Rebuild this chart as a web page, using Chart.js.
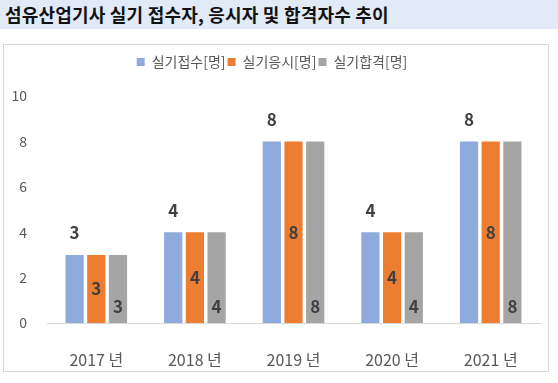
<!DOCTYPE html>
<html><head><meta charset="utf-8">
<script src="https://cdn.jsdelivr.net/npm/chart.js@4/dist/chart.umd.min.js"></script>
<style>
html,body{margin:0;padding:0;background:#fff;width:558px;height:383px;overflow:hidden;font-family:"Noto Sans CJK KR","Noto Sans",sans-serif;}
#title{position:absolute;left:0;top:0;width:558px;height:29px;background:#e3eaf7;}
#title span{position:absolute;left:5px;top:2px;font-size:18px;font-weight:bold;color:#111;line-height:24px;white-space:nowrap;letter-spacing:0.2px;}
#box{position:absolute;left:3px;top:44px;width:546px;height:328px;border:1px solid #d9d9d9;box-sizing:border-box;}
canvas{display:block;}
</style></head>
<body>
<div id="title"><span>섬유산업기사 실기 접수자, 응시자 및 합격자수 추이</span></div>
<div id="box"><canvas id="c" width="544" height="326"></canvas></div>
<script>
const categories = ["2017 년","2018 년","2019 년","2020 년","2021 년"];
const seriesNames = ["실기접수[명]","실기응시[명]","실기합격[명]"];
const applied = [3,4,8,4,8];
const took = [3,4,8,4,8];
const passed = [3,4,8,4,8];
const yTicks = [0,2,4,6,8,10];
const colors = ["#8faadc","#ed7d31","#a5a5a5"];

const FONT = '"Noto Sans CJK KR","Noto Sans",sans-serif';

const labelPlugin = {
  id:'barLabels',
  afterDatasetsDraw(chart){
    const ctx = chart.ctx;
    ctx.save();
    ctx.font = 'bold 17px ' + FONT;
    ctx.fillStyle = '#404040';
    ctx.textAlign = 'center';
    ctx.textBaseline = 'middle';
    chart.data.datasets.forEach((ds,di)=>{
      const meta = chart.getDatasetMeta(di);
      meta.data.forEach((bar,i)=>{
        let y;
        if(di===0) y = bar.y - 22;
        else if(di===1) y = (bar.y + bar.base)/2;
        else y = bar.base - 16;
        ctx.fillText(String(ds.data[i]), bar.x, y);
      });
    });
    ctx.restore();
  }
};

const legendHeightPlugin = {
  id:'legendHeight',
  beforeInit(chart){
    const fit = chart.legend.fit;
    chart.legend.fit = function(){ fit.call(this); this.height += 17; };
  }
};

new Chart(document.getElementById('c'),{
  type:'bar',
  data:{
    labels:categories,
    datasets:[
      {label:seriesNames[0],data:applied,backgroundColor:colors[0]},
      {label:seriesNames[1],data:took,backgroundColor:colors[1]},
      {label:seriesNames[2],data:passed,backgroundColor:colors[2]}
    ]
  },
  options:{
    responsive:false,
    animation:false,
    devicePixelRatio:1,
    layout:{padding:{top:8,right:8,left:0,bottom:0}},
    datasets:{bar:{categoryPercentage:0.66,barPercentage:0.84}},
    plugins:{
      legend:{
        position:'top',
        labels:{boxWidth:8,boxHeight:8,padding:2,color:'#595959',font:{family:FONT,size:14}}
      },
      tooltip:{enabled:false}
    },
    scales:{
      x:{
        grid:{display:false},
        border:{display:true,color:'#d9d9d9',width:1},
        ticks:{color:'#595959',font:{family:FONT,size:16},padding:19},
        afterFit(s){ s.height = 48; }
      },
      y:{
        min:0,max:10,
        afterBuildTicks(s){ s.ticks = yTicks.map(v=>({value:v})); },
        grid:{display:false},
        border:{display:false},
        ticks:{color:'#595959',font:{family:FONT,size:14},padding:12},
        afterFit(s){ s.width = 43; }
      }
    }
  },
  plugins:[labelPlugin,legendHeightPlugin]
});
</script>
</body></html>
